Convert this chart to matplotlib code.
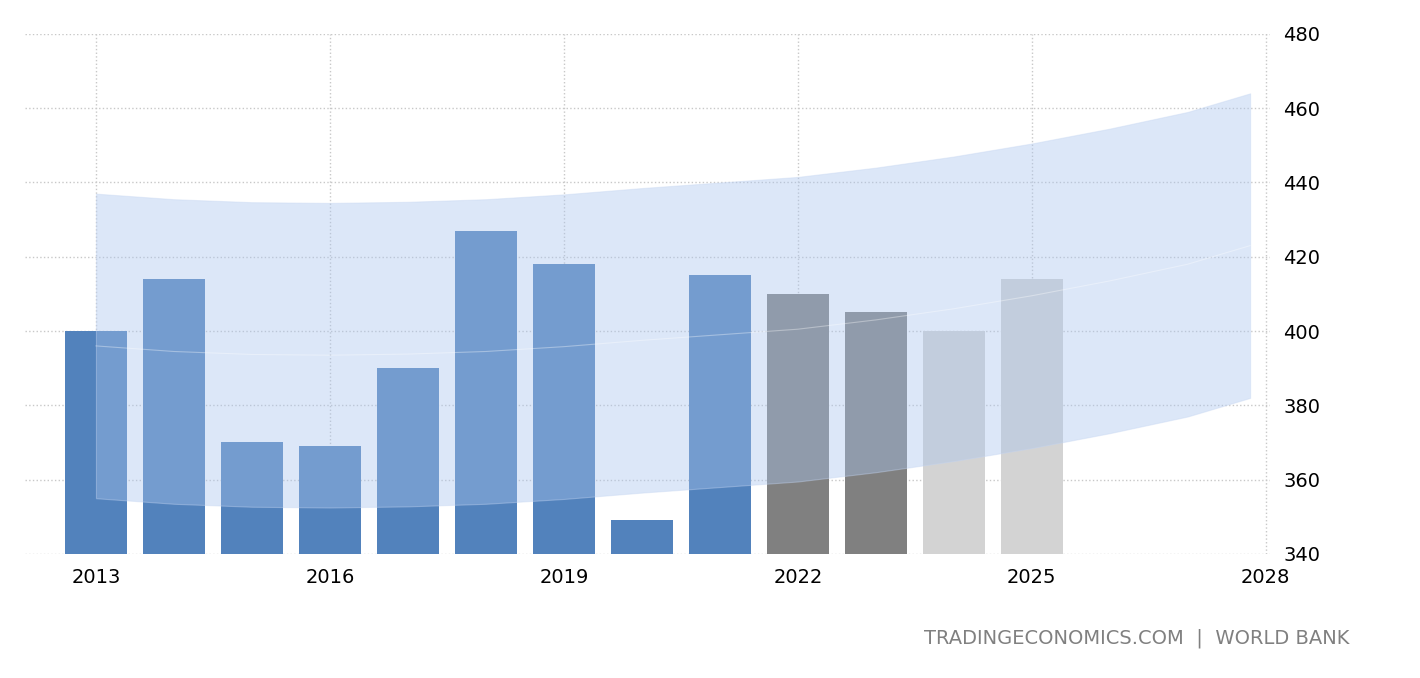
import numpy as np
import matplotlib.pyplot as plt

years = [2013, 2014, 2015, 2016, 2017, 2018, 2019, 2020, 2021, 2022, 2023, 2024, 2025]
values = [400, 414, 370, 369, 390, 427, 418, 349, 415, 410, 405, 400, 414]
kinds = ['hist'] * 9 + ['recent'] * 2 + ['forecast'] * 2

band_x = [2013, 2014, 2015, 2016, 2017, 2018, 2019, 2020, 2021, 2022, 2023, 2024, 2025, 2026, 2027, 2027.8]
band_upper = [437, 435.5, 434.7, 434.5, 434.8, 435.5, 436.8, 438.5, 440, 441.5, 444, 447, 450.5, 454.5, 459, 464]
band_lower = [u - 82 for u in band_upper]
band_mid = [u - 41 for u in band_upper]

colors = {'hist': '#5282bc', 'recent': '#808080', 'forecast': '#d3d3d3'}

fig = plt.figure(figsize=(14.2, 6.78), dpi=100)
ax = fig.add_axes([0.0176, 0.183, 0.8765, 0.767])

ax.bar(years, [v - 340 for v in values], bottom=340, width=0.8,
       color=[colors[k] for k in kinds], zorder=2)
ax.fill_between(band_x, band_lower, band_upper, color='#a9c4ee', alpha=0.4,
                linewidth=0.8, edgecolor='#c5d6f2', zorder=3)
ax.plot(band_x, band_mid, color='#ffffff', alpha=0.35, linewidth=0.8, zorder=4)

ax.set_xlim(2012.09, 2028.05)
ax.set_ylim(340, 480)
ax.set_xticks([2013, 2016, 2019, 2022, 2025, 2028])
ax.set_yticks(range(340, 481, 20))
ax.yaxis.tick_right()
ax.tick_params(length=0, labelsize=14, pad=10)
for s in ax.spines.values():
    s.set_visible(False)
ax.grid(True, linestyle=':', color='#c8c8c8', linewidth=1, zorder=0)
ax.set_axisbelow(True)

fig.text(0.95, 0.059, 'TRADINGECONOMICS.COM  |  WORLD BANK', ha='right', va='center',
         fontsize=14, color='#808080')

fig.savefig('out.png', dpi=100)
